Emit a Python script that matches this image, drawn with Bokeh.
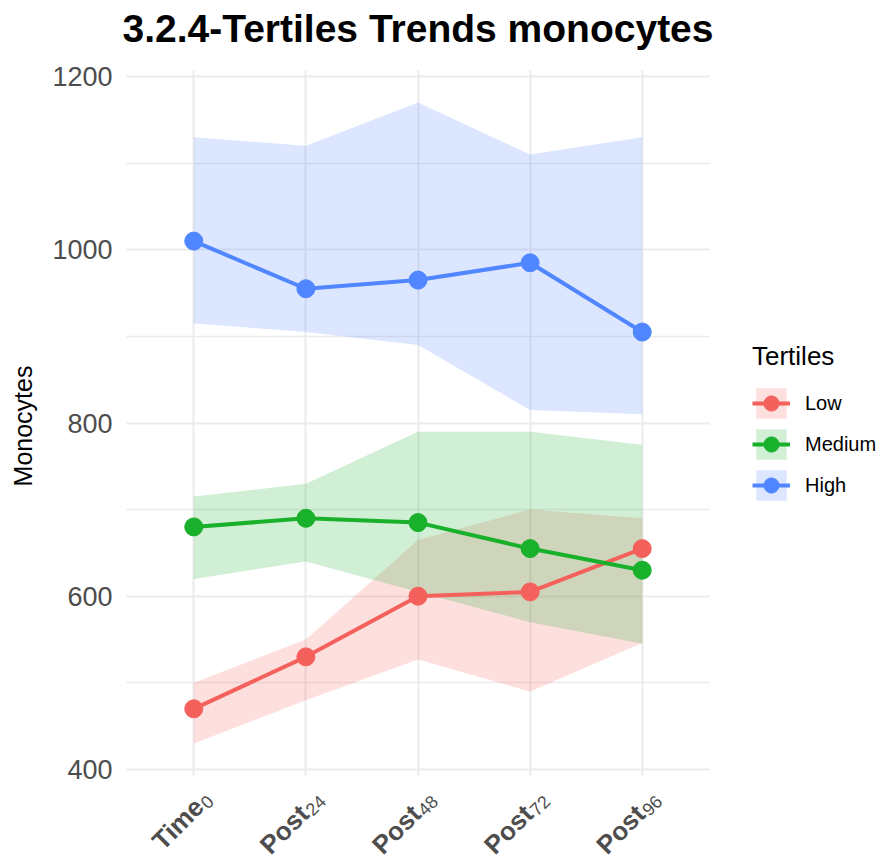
import math
from bokeh.plotting import figure
from bokeh.models import Range1d, FixedTicker, Legend, LegendItem
from bokeh.core.properties import value
from bokeh.embed import file_html
from bokeh.resources import INLINE

# ---- data ----
title_text = "3.2.4-Tertiles Trends monocytes"
y_label = "Monocytes"
timepoints = ["Time0", "Post24", "Post48", "Post72", "Post96"]
tick_words = ["Time", "Post", "Post", "Post", "Post"]
tick_subs = ["0", "24", "48", "72", "96"]
tertiles = ["Low", "Medium", "High"]

low_mean = [470, 530, 600, 605, 655]
low_lower = [430, 480, 527, 490, 546]
low_upper = [500, 550, 665, 700, 690]

med_mean = [680, 690, 685, 655, 630]
med_lower = [620, 640, 605, 570, 545]
med_upper = [715, 730, 790, 790, 775]

high_mean = [1010, 955, 965, 985, 905]
high_lower = [915, 905, 890, 815, 810]
high_upper = [1130, 1120, 1170, 1110, 1130]

y_major = [400, 600, 800, 1000, 1200]
y_minor = [500, 700, 900, 1100]
y_major_labels = ["400", "600", "800", "1000", "1200"]
y_lo, y_hi = 393, 1207          # panel limits (ggplot expanded)

colors = ["#F4615C", "#19B02B", "#5086FF"]
FONT = "Liberation Sans"

xs = list(range(len(timepoints)))
x_lo, x_hi = -0.6, len(timepoints) - 0.4   # panel limits (discrete expansion)
means = [low_mean, med_mean, high_mean]
lowers = [low_lower, med_lower, high_lower]
uppers = [low_upper, med_upper, high_upper]

# The panel is 583 x 705 px at (126, 70). The frame is extended around it so
# the title, axis texts and rotated category labels can be drawn as text
# glyphs; grid lines are bounded to the panel.
PANEL_W, PANEL_H = 583, 705
LEFT, RIGHT_EXT, TOP, BOTTOM = 126, 11, 70, 87
LEGEND_W = 161
upp_y = (y_hi - y_lo) / PANEL_H
upp_x = (x_hi - x_lo) / PANEL_W

p = figure(frame_width=LEFT + PANEL_W + RIGHT_EXT,
           frame_height=TOP + PANEL_H + BOTTOM,
           x_range=Range1d(x_lo - LEFT * upp_x, x_hi + RIGHT_EXT * upp_x),
           y_range=Range1d(y_lo - BOTTOM * upp_y, y_hi + TOP * upp_y),
           min_border_left=0, min_border_right=LEGEND_W,
           min_border_top=0, min_border_bottom=0,
           output_backend="svg", toolbar_location=None)
p.outline_line_color = None
p.background_fill_color = "white"
p.xaxis.visible = False
p.yaxis.visible = False

# grids
p.ygrid.ticker = FixedTicker(ticks=y_major, minor_ticks=y_minor)
p.ygrid.grid_line_color = "#EBEBEB"
p.ygrid.grid_line_width = 2
p.ygrid.minor_grid_line_color = "#EBEBEB"
p.ygrid.minor_grid_line_width = 1.5
p.ygrid.cross_bounds = (x_lo, x_hi)
p.xgrid.ticker = FixedTicker(ticks=xs)
p.xgrid.grid_line_color = "#EBEBEB"
p.xgrid.grid_line_width = 2
p.xgrid.cross_bounds = (y_lo, y_hi)

area_r, line_r, pt_r = [], [], []
for i in range(3):
    area_r.append(p.varea(x=xs, y1=lowers[i], y2=uppers[i],
                          fill_color=colors[i], fill_alpha=0.2))
for i in range(3):
    line_r.append(p.line(xs, means[i], line_color=colors[i], line_width=4))
    pt_r.append(p.scatter(xs, means[i], size=18, fill_color=colors[i],
                          line_color=colors[i]))

# title, centred over the panel
p.text(x=[(xs[0] + xs[-1]) / 2], y=[y_hi], text=[title_text], y_offset=-42,
       text_align="center", text_baseline="middle", text_font=value(FONT),
       text_font_size="39px", text_font_style="bold", text_color="black")

# y tick labels and y axis title
p.text(x=[x_lo] * len(y_major), y=y_major, text=y_major_labels, x_offset=-14,
       text_align="right", text_baseline="middle", text_font=value(FONT),
       text_font_size="27px", text_color="#4D4D4D")
p.text(x=[x_lo], y=[(y_lo + y_hi) / 2], text=[y_label], x_offset=-104,
       y_offset=3, angle=math.pi / 2, text_align="center",
       text_baseline="middle", text_font=value(FONT), text_font_size="25px",
       text_color="black")

# rotated category labels: bold word followed by a normal-weight subscript
WORD_SIZE = 26
SUB_SIZE = 18
c = math.cos(math.pi / 4)
along = (c, -c)   # canvas coords (y down)
down = (c, c)
T = (0.0, 6.0)
CAP = 0.72 * WORD_SIZE
word_dx, word_dy, sub_dx, sub_dy = [], [], [], []
for s in tick_subs:
    sub_w = len(s) * 0.556 * SUB_SIZE + 1
    word_dx.append(T[0] + CAP * down[0] - sub_w * along[0])
    word_dy.append(T[1] + CAP * down[1] - sub_w * along[1])
    sub_dx.append(T[0] + (CAP + 5) * down[0])
    sub_dy.append(T[1] + (CAP + 5) * down[1])

p.text(x=xs, y=[y_lo] * len(xs), text=tick_words, x_offset=word_dx,
       y_offset=word_dy, angle=math.pi / 4, text_align="right",
       text_baseline="alphabetic", text_font=value(FONT),
       text_font_size=f"{WORD_SIZE}px", text_font_style="bold",
       text_color="#4D4D4D")
p.text(x=xs, y=[y_lo] * len(xs), text=tick_subs, x_offset=sub_dx,
       y_offset=sub_dy, angle=math.pi / 4, text_align="right",
       text_baseline="alphabetic", text_font=value(FONT),
       text_font_size=f"{SUB_SIZE}px", text_font_style="normal",
       text_color="#4D4D4D")

items = [LegendItem(label=t, renderers=[area_r[i], line_r[i], pt_r[i]])
         for i, t in enumerate(tertiles)]
legend = Legend(items=items, title="Tertiles", location=(32, 358),
                orientation="vertical")
legend.title_text_font = FONT
legend.title_text_font_size = "26px"
legend.title_text_font_style = "normal"
legend.title_text_color = "black"
legend.title_standoff = 12
legend.label_text_font = FONT
legend.label_text_font_size = "20px"
legend.label_text_color = "black"
legend.glyph_width = 38
legend.glyph_height = 38
legend.spacing = 3
legend.label_standoff = 15
legend.padding = 0
legend.margin = 0
legend.border_line_color = None
legend.background_fill_alpha = 0
p.add_layout(legend, "right")

open("out.html", "w").write(file_html(p, INLINE))
